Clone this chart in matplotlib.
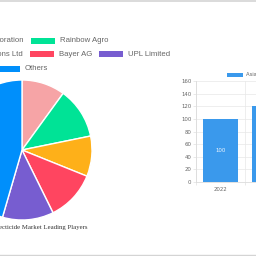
import matplotlib
matplotlib.use("Agg")
import matplotlib.pyplot as plt
from matplotlib.patches import Rectangle

# datos del pie (participacion estimada)
empresas = ["FMC Corporation", "Rainbow Agro", "Adama Agricultural Solutions Ltd",
            "Bayer AG", "UPL Limited", "Others"]
participacion = [10.0, 11.8, 9.3, 11.6, 11.8, 45.5]
colores_pie = ["#f6a4a6", "#00e396", "#feb019", "#ff4560", "#775dd0", "#008ffb"]
filas_leyenda = [[0, 1], [2, 3, 4], [5]]

# datos de barras
anios = ["2022", "2023"]
valores = [100, 120]
serie_barras = "Asia Pacific Insecticide Market Size"
titulo_pie = "Asia Pacific Insecticide Market Leading Players"

fig = plt.figure(figsize=(2.56, 2.56), dpi=100, facecolor="white")

# capa en pixeles para textos y leyenda
capa = fig.add_axes([0, 0, 1, 1])
capa.set_xlim(0, 256)
capa.set_ylim(256, 0)
capa.axis("off")
capa.set_zorder(5)
capa.patch.set_alpha(0)

capa.plot([0, 256], [0.6, 0.6], color="#d4d4d4", lw=1.2)
capa.plot([0, 256], [255.2, 255.2], color="#d4d4d4", lw=1.0)

# pie
ax_pie = fig.add_axes([(22 - 70) / 256, (256 - 150 - 70) / 256, 140 / 256, 140 / 256])
ax_pie.pie(participacion, colors=colores_pie, startangle=90, counterclock=False,
           wedgeprops=dict(edgecolor="white", linewidth=1.0))
ax_pie.set_xlim(-1, 1)
ax_pie.set_ylim(-1, 1)
ax_pie.axis("off")

# leyenda estilo chart.js
renderer = fig.canvas.get_renderer()
caja_w, caja_h, hueco, sep = 24, 6, 5, 7
fuente = dict(family="Liberation Sans", size=5.6, color="#666666")
filas_y = [40.7, 54.3, 68.7]
anclas = [(1, 31), (1, 30), (0, -4)]  # (item de la fila, x donde empieza su caja)

for fila, y, (k, x0) in zip(filas_leyenda, filas_y, anclas):
    textos = []
    anchos = []
    for i in fila:
        t = capa.text(0, y, empresas[i], va="center", ha="left", **fuente)
        bb = t.get_window_extent(renderer)
        textos.append(t)
        anchos.append(caja_w + hueco + bb.width)
    xs = [0] * len(fila)
    xs[k] = x0
    for j in range(k + 1, len(fila)):
        xs[j] = xs[j - 1] + anchos[j - 1] + sep
    for j in range(k - 1, -1, -1):
        xs[j] = xs[j + 1] - sep - anchos[j]
    for j, i in enumerate(fila):
        capa.add_patch(Rectangle((xs[j], y - caja_h / 2), caja_w, caja_h,
                                 facecolor=colores_pie[i], edgecolor="none"))
        textos[j].set_x(xs[j] + caja_w + hueco)

capa.text(87, 227, titulo_pie, ha="right", va="center", family="Liberation Serif",
          size=4.9, color="#333333")

# barras
ax_bar = fig.add_axes([196 / 256, (256 - 182) / 256, 98 / 256, 101 / 256])
pos = list(range(len(anios)))
barras = ax_bar.bar(pos, valores, width=0.73, color="#3a99ec", zorder=3)
ax_bar.set_xlim(-0.5, len(anios) - 0.5)
ax_bar.set_ylim(0, 160)
ax_bar.set_yticks(range(0, 161, 20))
ax_bar.set_xticks(pos)
ax_bar.set_xticklabels(anios)
ax_bar.set_xticks([p - 0.5 for p in range(len(anios) + 1)], minor=True)
ax_bar.tick_params(axis="y", length=2.5, width=0.5, color="#e0e0e0", pad=0.8,
                   labelsize=3.9, labelcolor="#666666")
ax_bar.tick_params(axis="x", which="major", length=0, pad=3.4,
                   labelsize=3.9, labelcolor="#666666")
ax_bar.tick_params(axis="x", which="minor", length=2.5, width=0.5, color="#e0e0e0")
ax_bar.grid(axis="y", color="#e8e8e8", lw=0.5, zorder=0)
ax_bar.grid(axis="x", which="minor", color="#e8e8e8", lw=0.5, zorder=0)
for s in ["top", "right"]:
    ax_bar.spines[s].set_visible(False)
for s in ["left", "bottom"]:
    ax_bar.spines[s].set_color("#dcdcdc")
    ax_bar.spines[s].set_linewidth(0.6)
for b, v in zip(barras, valores):
    ax_bar.text(b.get_x() + b.get_width() / 2, v / 2, str(v), ha="center", va="center",
                fontsize=3.9, color="#eef5fd", zorder=4)

capa.add_patch(Rectangle((227, 72.5), 16, 4, facecolor="#3a99ec", edgecolor="none"))
capa.text(246.5, 74.5, serie_barras, ha="left", va="center", family="Liberation Sans",
          size=3.9, color="#666666")

fig.savefig("out.png", dpi=100, facecolor="white")
